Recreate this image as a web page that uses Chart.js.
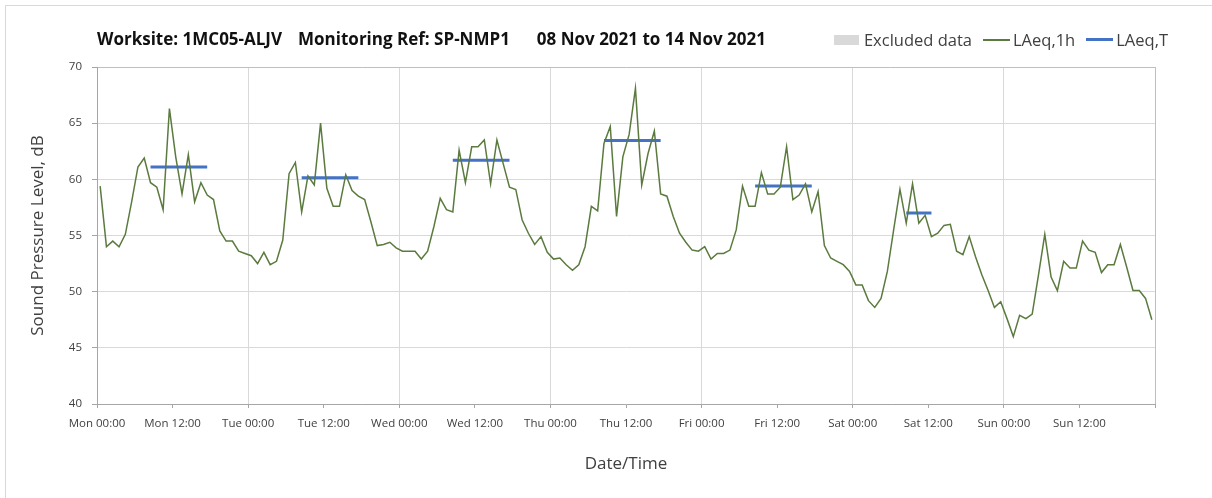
<!DOCTYPE html>
<html>
<head>
<meta charset="utf-8">
<script src="https://cdn.jsdelivr.net/npm/chart.js@4.4.1/dist/chart.umd.min.js"></script>
<style>
  html, body { margin: 0; padding: 0; background: #fff; }
  #wrap { position: relative; width: 1212px; height: 498px; overflow: hidden; }
  #frame { position: absolute; left: 5px; top: 5px; width: 1400px; height: 700px;
           border-left: 1px solid #d9d9d9; border-top: 1px solid #d9d9d9; }
  #title { position: absolute; left: 97px; top: 27px; font: bold 17px "Open Sans"; color: #111; white-space: nowrap; }
  #title span { margin-right: 16px; }
  #title span.wide { margin-right: 27px; }
  #legend { position: absolute; right: 44px; top: 28px; display: flex; align-items: center;
            font: 16.5px "Open Sans"; color: #404040; }
  #legend .item { display: flex; align-items: center; margin-left: 11px; }
  #legend .box { width: 25px; height: 10px; background: #d9d9d9; margin-right: 5px; }
  #legend .ln { width: 27px; margin-right: 3px; }
  canvas { position: absolute; left: 0; top: 0; }
</style>
</head>
<body>
<div id="wrap">
  <div id="frame"></div>
  <canvas id="chart" width="1212" height="498"></canvas>
  <div id="title"><span>Worksite: 1MC05-ALJV</span><span class="wide">Monitoring Ref: SP-NMP1</span><span>08 Nov 2021 to 14 Nov 2021</span></div>
  <div id="legend">
    <div class="item"><span class="box"></span>Excluded data</div>
    <div class="item"><span class="ln" style="border-top:2px solid #5a7a3e"></span>LAeq,1h</div>
    <div class="item"><span class="ln" style="border-top:3px solid #4472c4"></span>LAeq,T</div>
  </div>
</div>
<script>
// hourly LAeq,1h from Mon 00:00 to Sun 23:00
const dayNames = ['Mon', 'Tue', 'Wed', 'Thu', 'Fri', 'Sat', 'Sun'];
const laeq1h = [
  59.4, 54.0, 54.5, 54.0, 55.1, 58.0, 61.1, 61.9, 59.7, 59.3, 57.3, 66.3,
  62.0, 58.7, 62.2, 58.0, 59.7, 58.6, 58.2, 55.4, 54.5, 54.5, 53.6, 53.4,
  53.2, 52.5, 53.5, 52.4, 52.7, 54.6, 60.5, 61.5, 57.1, 60.3, 59.5, 65.0,
  59.2, 57.6, 57.6, 60.4, 59.0, 58.5, 58.2, 56.2, 54.1, 54.2, 54.4, 53.9,
  53.6, 53.6, 53.6, 52.9, 53.6, 55.8, 58.3, 57.3, 57.1, 62.6, 59.7, 62.9,
  62.9, 63.5, 59.6, 63.5, 61.4, 59.3, 59.1, 56.4, 55.2, 54.2, 54.9, 53.5,
  52.9, 53.0, 52.4, 51.9, 52.4, 54.0, 57.6, 57.2, 63.2, 64.7, 56.7, 62.0,
  64.0, 68.1, 59.5, 62.3, 64.3, 58.7, 58.5, 56.7, 55.2, 54.4, 53.7, 53.6,
  54.0, 52.9, 53.4, 53.4, 53.7, 55.5, 59.4, 57.6, 57.6, 60.6, 58.7, 58.7,
  59.3, 62.9, 58.2, 58.6, 59.6, 57.1, 58.9, 54.1, 53.0, 52.7, 52.4, 51.8,
  50.6, 50.6, 49.2, 48.6, 49.4, 51.8, 55.5, 59.1, 56.1, 59.6, 56.1, 56.8,
  54.9, 55.2, 55.9, 56.0, 53.6, 53.3, 54.9, 53.1, 51.5, 50.1, 48.6, 49.1,
  47.6, 46.0, 47.9, 47.6, 48.0, 51.5, 55.1, 51.3, 50.1, 52.7, 52.1, 52.1,
  54.5, 53.7, 53.5, 51.7, 52.4, 52.4, 54.2, 52.2, 50.1, 50.1, 49.4, 47.5
];
// LAeq,T per working period (hour of day from / to)
const laeqT = [61.1, 60.15, 61.7, 63.45, 59.4, 57.0];
const tFrom = [8, 8, 8, 8, 8, 8];
const tTo = [18, 18, 18, 18, 18, 13];

const hourlyPts = laeq1h.map((v, i) => ({ x: i + 0.5, y: v }));
const periodPts = [];
laeqT.forEach((v, d) => {
  periodPts.push({ x: d * 24 + tFrom[d] + 0.5, y: v });
  periodPts.push({ x: d * 24 + tTo[d] - 0.5, y: v });
  periodPts.push({ x: d * 24 + tTo[d], y: null });
});

const tickFont = { family: 'Open Sans', size: 11.5 };
const titleFont = { family: 'Open Sans', size: 17 };

new Chart(document.getElementById('chart').getContext('2d'), {
  type: 'line',
  data: {
    datasets: [
      { label: 'LAeq,1h', data: hourlyPts, borderColor: '#5a7a3e', borderWidth: 1.5, pointRadius: 0, tension: 0 },
      { label: 'LAeq,T', data: periodPts, borderColor: '#4472c4', borderWidth: 3, pointRadius: 0, borderCapStyle: 'butt' }
    ]
  },
  options: {
    responsive: false,
    animation: false,
    layout: { padding: { left: 0, right: 57, top: 67, bottom: 0 } },
    plugins: { legend: { display: false }, tooltip: { enabled: false } },
    scales: {
      x: {
        type: 'linear', min: 0, max: 168,
        afterFit: s => { s.height = 94; },
        ticks: {
          stepSize: 12, autoSkip: false, maxRotation: 0, padding: 9, color: '#404040', font: tickFont,
          callback: v => v >= 168 ? '' : dayNames[Math.floor(v / 24)] + (v % 24 === 0 ? ' 00:00' : ' 12:00')
        },
        grid: {
          color: c => c.tick.value % 24 === 0 ? (c.tick.value === 168 ? '#bfbfbf' : '#d9d9d9') : 'rgba(0,0,0,0)',
          tickColor: '#a6a6a6', tickLength: 4
        },
        border: { color: '#a6a6a6' },
        title: { display: true, text: 'Date/Time', color: '#404040', font: titleFont, padding: { top: 0, bottom: 24 } }
      },
      y: {
        min: 40, max: 70,
        afterFit: s => { s.width = 97; },
        ticks: { stepSize: 5, padding: 10, color: '#404040', font: tickFont },
        grid: { color: c => c.tick.value === 70 ? '#bfbfbf' : '#d9d9d9', tickColor: '#a6a6a6', tickLength: 5 },
        border: { color: '#a6a6a6' },
        title: { display: true, text: 'Sound Pressure Level, dB', color: '#404040', font: titleFont, padding: { top: 28, bottom: 0 } }
      }
    }
  }
});
</script>
</body>
</html>
